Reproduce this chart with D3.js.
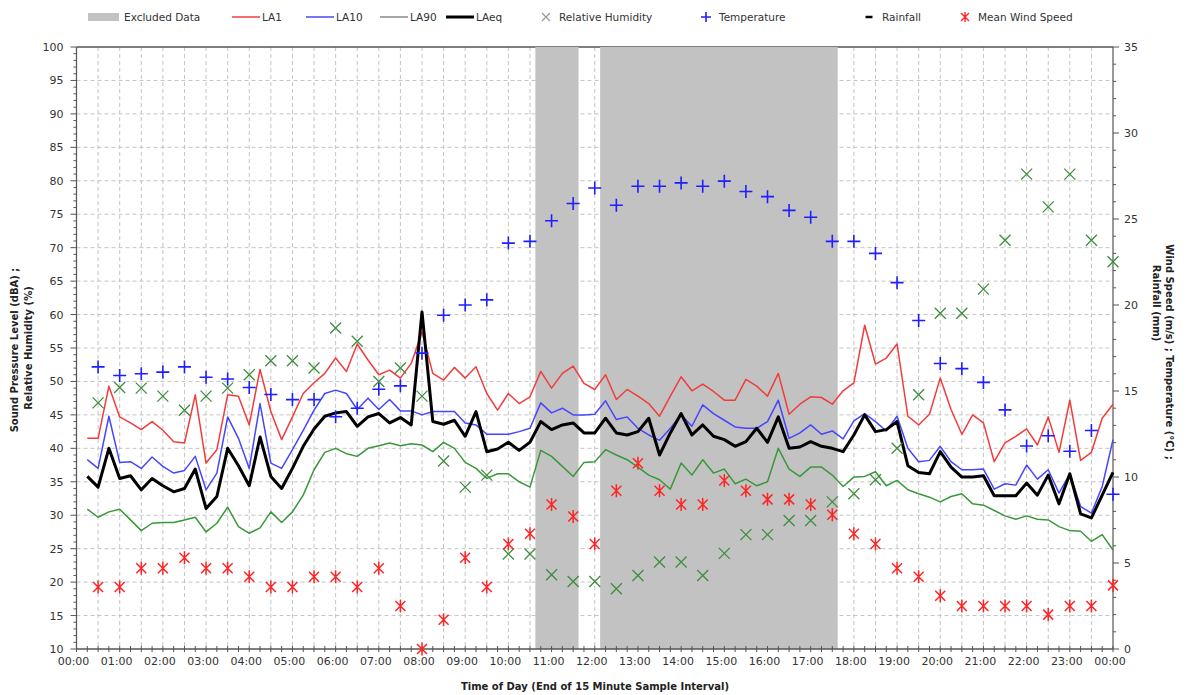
<!DOCTYPE html>
<html>
<head>
<meta charset="utf-8">
<script src="https://cdn.jsdelivr.net/npm/d3@7.9.0/dist/d3.min.js"></script>
<style>
  body { margin: 0; background: #fff; }
  svg text { font-family: "DejaVu Sans", Verdana, sans-serif; }
</style>
</head>
<body>
<svg id="chart" width="1194" height="695"></svg>
<script>
// ---- data ----
// 15 minute samples, labelled by the end of the interval (00:15 ... 24:00)
const sampleHours = d3.range(1, 97).map(i => i / 4);
// half-hourly weather readings (00:30 ... 24:00)
const weatherHours = d3.range(1, 49).map(i => i / 2);

const la1 = [
  41.5, 41.5, 49.3, 44.7, 43.8, 42.8, 44.0, 42.7, 41.0, 40.8, 48.0, 37.8,
  39.8, 48.0, 47.8, 43.5, 51.8, 45.5, 41.3, 44.7, 48.2, 49.8, 51.2, 53.5,
  51.5, 55.6, 53.2, 51.0, 51.7, 50.5, 52.7, 57.4, 51.2, 50.2, 52.1, 50.5,
  52.2, 48.2, 45.7, 48.2, 46.7, 47.7, 51.5, 49.0, 51.2, 52.3, 49.7, 48.8,
  51.0, 47.3, 48.8, 47.8, 46.7, 44.8, 47.8, 50.7, 48.6, 49.6, 48.5, 47.2,
  47.2, 50.3, 49.3, 47.8, 51.2, 45.1, 46.6, 47.7, 47.6, 46.6, 48.6, 49.8,
  58.4, 52.6, 53.5, 55.6, 44.8, 43.5, 45.1, 50.5, 45.8, 42.1, 45.0, 43.8,
  38.0, 40.8, 41.8, 42.9, 40.5, 44.7, 39.4, 47.2, 38.2, 39.4, 44.5, 46.6
];
const la10 = [
  38.3, 37.0, 44.8, 37.9, 38.0, 37.0, 38.7, 37.3, 36.3, 36.7, 38.8, 33.8,
  36.3, 44.7, 41.5, 37.0, 46.7, 37.8, 37.0, 39.8, 42.7, 45.7, 48.2, 48.7,
  48.2, 45.8, 47.5, 45.8, 47.3, 45.6, 45.6, 45.0, 45.5, 45.5, 45.5, 43.8,
  43.5, 42.1, 42.1, 42.1, 42.5, 43.0, 46.8, 45.3, 46.0, 45.0, 45.0, 45.1,
  47.1, 44.3, 44.7, 43.0, 42.0, 41.2, 43.0, 45.0, 43.3, 46.5, 45.2, 44.2,
  43.2, 43.0, 43.0, 44.0, 47.2, 41.5, 42.3, 43.5, 42.1, 42.6, 41.4, 44.1,
  45.2, 44.0, 42.6, 44.8, 40.0, 38.0, 38.2, 40.3, 38.0, 36.8, 36.8, 36.9,
  33.9, 34.7, 34.5, 37.5, 35.4, 36.8, 33.3, 36.2, 31.3, 30.3, 34.3, 41.3
];
const la90 = [
  30.9, 29.7, 30.5, 30.9, 29.3, 27.7, 28.8, 28.9, 28.9, 29.3, 29.7, 27.5,
  28.8, 31.2, 28.3, 27.3, 28.1, 30.5, 28.9, 30.5, 33.0, 36.8, 39.4, 40.0,
  39.2, 38.8, 40.0, 40.4, 40.8, 40.4, 40.7, 40.5, 39.5, 40.9, 40.0, 37.9,
  37.0, 35.5, 36.2, 36.2, 35.0, 34.2, 39.7, 38.8, 37.3, 35.8, 37.9, 38.0,
  39.8, 39.0, 38.3, 37.2, 36.0, 35.3, 33.9, 37.8, 36.0, 38.3, 36.3, 36.9,
  34.7, 35.4, 34.4, 35.0, 40.0, 36.9, 35.8, 37.2, 37.2, 36.0, 34.3, 35.7,
  35.8, 36.5, 34.4, 35.2, 33.8, 33.2, 32.7, 32.0, 32.8, 33.2, 31.7, 31.5,
  30.7, 29.9, 29.4, 29.9, 29.4, 29.3, 28.3, 27.7, 27.6, 26.1, 27.1, 24.8
];
const laeq = [
  35.8, 34.2, 40.0, 35.5, 35.9, 33.8, 35.5, 34.4, 33.5, 34.0, 36.9, 31.0,
  32.8, 40.0, 37.4, 34.4, 41.7, 35.8, 34.0, 37.0, 40.3, 42.9, 44.8, 45.3,
  45.5, 43.3, 44.7, 45.2, 43.8, 44.6, 43.5, 60.4, 44.0, 43.6, 44.2, 41.8,
  45.5, 39.5, 39.9, 40.9, 39.7, 40.9, 44.0, 42.8, 43.5, 43.8, 42.3, 42.3,
  44.5, 42.3, 42.0, 42.5, 44.5, 39.0, 42.3, 45.2, 42.0, 43.5, 41.8, 41.3,
  40.3, 41.0, 43.0, 40.9, 44.7, 40.0, 40.2, 41.0, 40.3, 40.0, 39.5, 42.0,
  45.0, 42.5, 42.8, 44.0, 37.4, 36.4, 36.2, 39.5, 37.2, 35.7, 35.7, 35.9,
  32.9, 32.9, 32.9, 34.8, 33.0, 36.0, 31.7, 36.2, 30.2, 29.6, 33.0, 36.4
];
const humidity = [
  46.8, 49.1, 49.0, 47.8, 45.7, 47.8, 49.0, 51.0, 53.1, 53.1, 52.0, 58.0,
  56.0, 50.0, 52.0, 47.8, 38.1, 34.2, 36.0, 24.2, 24.2, 21.1, 20.1, 20.1,
  19.0, 21.0, 23.0, 23.0, 21.0, 24.3, 27.1, 27.1, 29.2, 29.2, 32.0, 33.2,
  35.3, 40.0, 48.0, 60.2, 60.2, 63.8, 71.1, 81.0, 76.1, 81.0, 71.1, 67.9
];
const temperature = [
  16.4, 15.9, 16.0, 16.1, 16.4, 15.8, 15.7, 15.2, 14.8, 14.5, 14.5, 13.5,
  14.0, 15.1, 15.3, 17.2, 19.4, 20.0, 20.3, 23.6, 23.7, 24.9, 25.9, 26.8,
  25.8, 26.9, 26.9, 27.1, 26.9, 27.2, 26.6, 26.3, 25.5, 25.1, 23.7, 23.7,
  23.0, 21.3, 19.1, 16.6, 16.3, 15.5, 13.9, 11.8, 12.4, 11.5, 12.7, 9.0
];
const windSpeed = [
  3.6, 3.6, 4.7, 4.7, 5.3, 4.7, 4.7, 4.2, 3.6, 3.6, 4.2, 4.2,
  3.6, 4.7, 2.5, 0.0, 1.7, 5.3, 3.6, 6.1, 6.7, 8.4, 7.7, 6.1,
  9.2, 10.8, 9.2, 8.4, 8.4, 9.8, 9.2, 8.7, 8.7, 8.4, 7.8, 6.7,
  6.1, 4.7, 4.2, 3.1, 2.5, 2.5, 2.5, 2.5, 2.0, 2.5, 2.5, 3.7
];
const rainfall = []; // no rainfall recorded

// first and last excluded 15-min samples of each excluded block
const excludedBlocks = [[10.75, 11.5], [12.25, 17.5]];

const hourTicks = d3.range(0, 25);
const leftTicks = d3.range(10, 101, 5);
const rightTicks = d3.range(0, 36, 5);

// ---- layout ----
const svg = d3.select("#chart");
const plotLeft = 76.5, plotRight = 1113, plotTop = 47, plotBottom = 649;

const x = d3.scaleLinear().domain([0, 24]).range([plotLeft, plotRight]);
const yL = d3.scaleLinear().domain([10, 100]).range([plotBottom, plotTop]);
const yR = d3.scaleLinear().domain([0, 35]).range([plotBottom, plotTop]);

const fmtHour = h => String(h % 24).padStart(2, "0") + ":00";

// grid
const grid = svg.append("g").attr("stroke", "#c4c4c4").attr("stroke-dasharray", "4,3").attr("stroke-width", 1);
grid.selectAll("line.h")
  .data(leftTicks.filter(v => v > 10 && v < 100))
  .enter().append("line")
  .attr("x1", plotLeft).attr("x2", plotRight)
  .attr("y1", d => yL(d)).attr("y2", d => yL(d));
grid.selectAll("line.v")
  .data(d3.range(1, 48).map(i => i / 2))
  .enter().append("line")
  .attr("y1", plotTop).attr("y2", plotBottom)
  .attr("x1", d => x(d)).attr("x2", d => x(d));

// top frame line
svg.append("line")
  .attr("x1", plotLeft).attr("x2", plotRight).attr("y1", plotTop).attr("y2", plotTop)
  .attr("stroke", "#555").attr("stroke-width", 1.5);

// excluded data bands (half a sample either side)
svg.selectAll("rect.excl")
  .data(excludedBlocks)
  .enter().append("rect")
  .attr("class", "excl")
  .attr("x", d => x(d[0] - 0.125))
  .attr("width", d => x(d[1] + 0.125) - x(d[0] - 0.125))
  .attr("y", plotTop).attr("height", plotBottom - plotTop)
  .attr("fill", "#c2c2c2");

// axes lines and ticks
const axisColor = "#555";
svg.append("line").attr("x1", plotLeft).attr("x2", plotLeft).attr("y1", plotTop).attr("y2", plotBottom)
  .attr("stroke", axisColor).attr("stroke-width", 1.2);
svg.append("line").attr("x1", plotRight).attr("x2", plotRight).attr("y1", plotTop).attr("y2", plotBottom)
  .attr("stroke", axisColor).attr("stroke-width", 1.2);
svg.append("line").attr("x1", plotLeft).attr("x2", plotRight).attr("y1", plotBottom).attr("y2", plotBottom)
  .attr("stroke", axisColor).attr("stroke-width", 1.5);

// left ticks
svg.append("g").selectAll("line")
  .data(d3.range(10, 101, 1))
  .enter().append("line")
  .attr("x1", d => d % 5 === 0 ? plotLeft - 6 : plotLeft - 3).attr("x2", plotLeft)
  .attr("y1", d => yL(d)).attr("y2", d => yL(d))
  .attr("stroke", axisColor);
svg.append("g").selectAll("text")
  .data(leftTicks)
  .enter().append("text")
  .attr("x", plotLeft - 13).attr("y", d => yL(d) + 4)
  .attr("text-anchor", "end").attr("font-size", 11).attr("fill", "#333")
  .text(d => d);

// right ticks
svg.append("g").selectAll("line")
  .data(d3.range(0, 36, 1))
  .enter().append("line")
  .attr("x1", plotRight).attr("x2", d => d % 5 === 0 ? plotRight + 6 : plotRight + 3)
  .attr("y1", d => yR(d)).attr("y2", d => yR(d))
  .attr("stroke", axisColor);
svg.append("g").selectAll("text")
  .data(rightTicks)
  .enter().append("text")
  .attr("x", plotRight + 11).attr("y", d => yR(d) + 4)
  .attr("text-anchor", "start").attr("font-size", 11).attr("fill", "#333")
  .text(d => d);

// bottom ticks
svg.append("g").selectAll("line")
  .data(d3.range(0, 97).map(i => i / 4))
  .enter().append("line")
  .attr("x1", d => x(d)).attr("x2", d => x(d))
  .attr("y1", plotBottom - 3).attr("y2", plotBottom + 3)
  .attr("stroke", axisColor);
svg.append("g").selectAll("text")
  .data(hourTicks)
  .enter().append("text")
  .attr("x", d => x(d) - 3).attr("y", plotBottom + 16)
  .attr("text-anchor", "middle").attr("font-size", 11).attr("fill", "#333")
  .text(fmtHour);

// axis titles
const titleStyle = t => t.attr("text-anchor", "middle").attr("font-size", 10)
  .attr("font-weight", "bold").attr("fill", "#222");
svg.append("text")
  .attr("x", 595).attr("y", 690)
  .call(titleStyle)
  .text("Time of Day (End of 15 Minute Sample Interval)");
svg.append("text")
  .attr("transform", "translate(18,350) rotate(-90)")
  .call(titleStyle)
  .text("Sound Pressure Level (dBA) ;");
svg.append("text")
  .attr("transform", "translate(32,348) rotate(-90)")
  .call(titleStyle)
  .text("Relative Humidity (%)");
svg.append("text")
  .attr("transform", "translate(1166,352) rotate(90)")
  .call(titleStyle)
  .text("Wind Speed (m/s) ; Temperature (°C) ;");
svg.append("text")
  .attr("transform", "translate(1153,303) rotate(90)")
  .call(titleStyle)
  .text("Rainfall (mm)");

// ---- series ----
const lineSeries = [
  { name: "LA90", values: la90, color: "#3a983a", width: 1.5 },
  { name: "LA10", values: la10, color: "#4646ff", width: 1.5 },
  { name: "LA1", values: la1, color: "#f23c3c", width: 1.5 },
  { name: "LAeq", values: laeq, color: "#000", width: 3 }
];
const lineGen = d3.line()
  .x((d, i) => x(sampleHours[i]))
  .y(d => yL(d));
svg.append("g").selectAll("path")
  .data(lineSeries)
  .enter().append("path")
  .attr("d", d => lineGen(d.values))
  .attr("fill", "none")
  .attr("stroke", d => d.color)
  .attr("stroke-width", d => d.width)
  .attr("stroke-linejoin", "round");

const crossPath = "M-5.5,-5.5L5.5,5.5M-5.5,5.5L5.5,-5.5";
const plusPath = "M-6.5,0H6.5M0,-6.5V6.5";
const starPath = "M-5,-5L5,5M-5,5L5,-5M0,-6.5V6.5";

function markers(values, scale, path, color, sw) {
  svg.append("g").selectAll("path")
    .data(values)
    .enter().append("path")
    .attr("transform", (d, i) => `translate(${x(weatherHours[i])},${scale(d)})`)
    .attr("d", path)
    .attr("fill", "none")
    .attr("stroke", color)
    .attr("stroke-width", sw);
}
markers(humidity, yL, crossPath, "#3d8d3d", 1.3);
markers(temperature, yR, plusPath, "#1e1eff", 1.6);
markers(windSpeed, yR, starPath, "#ff2424", 1.5);
markers(rainfall, yR, "M-4,0H4", "#000", 2);

// ---- legend ----
const lg = svg.append("g").attr("font-size", 10.5).attr("fill", "#333");
const ly = 17;
lg.append("rect").attr("x", 88).attr("y", ly - 4).attr("width", 31).attr("height", 8).attr("fill", "#c2c2c2");
lg.append("text").attr("x", 124).attr("y", ly + 4).text("Excluded Data");
const legendLines = [
  { x: 232, label: "LA1", color: "#f23c3c", w: 1.5 },
  { x: 306, label: "LA10", color: "#4646ff", w: 1.5 },
  { x: 380, label: "LA90", color: "#888", w: 1.5 },
  { x: 446, label: "LAeq", color: "#000", w: 3 }
];
legendLines.forEach(d => {
  lg.append("line").attr("x1", d.x).attr("x2", d.x + 28).attr("y1", ly).attr("y2", ly)
    .attr("stroke", d.color).attr("stroke-width", d.w);
  lg.append("text").attr("x", d.x + 30).attr("y", ly + 4).text(d.label);
});
const legendMarks = [
  { x: 546, label: "Relative Humidity", path: "M-4,-4L4,4M-4,4L4,-4", color: "#999", w: 1.2 },
  { x: 706, label: "Temperature", path: "M-5,0H5M0,-5V5", color: "#1e1eff", w: 1.6 },
  { x: 869, label: "Rainfall", path: "M-3.5,0H3.5", color: "#000", w: 2.5 },
  { x: 965, label: "Mean Wind Speed", path: "M-4,-4L4,4M-4,4L4,-4M0,-5V5", color: "#ff2424", w: 1.4 }
];
legendMarks.forEach(d => {
  lg.append("path").attr("transform", `translate(${d.x},${ly})`).attr("d", d.path)
    .attr("fill", "none").attr("stroke", d.color).attr("stroke-width", d.w);
  lg.append("text").attr("x", d.x + 13).attr("y", ly + 4).text(d.label);
});
</script>
</body>
</html>
